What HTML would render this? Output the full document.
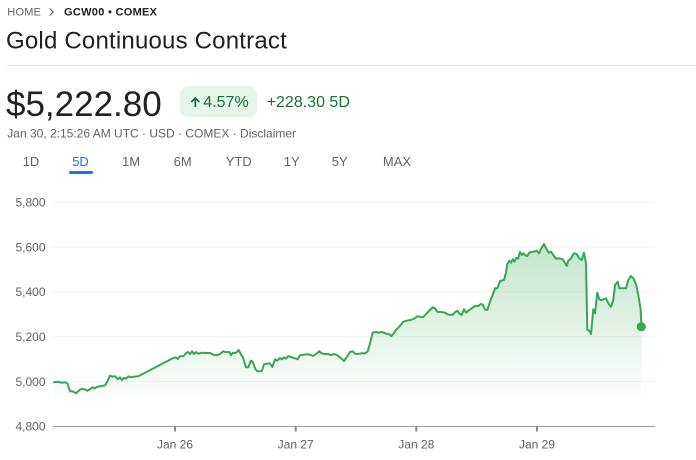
<!DOCTYPE html>
<html>
<head>
<meta charset="utf-8">
<style>
  html,body{margin:0;padding:0;background:#fff;}
  body{width:696px;height:460px;overflow:hidden;}
  svg{display:block;}
  text{font-family:"Liberation Sans", Arial, sans-serif;}
</style>
</head>
<body>
<svg width="696" height="460" viewBox="0 0 696 460" xmlns="http://www.w3.org/2000/svg">
  <defs>
    <linearGradient id="g" x1="0" y1="240" x2="0" y2="400" gradientUnits="userSpaceOnUse">
      <stop offset="0" stop-color="#34a853" stop-opacity="0.30"/>
      <stop offset="1" stop-color="#34a853" stop-opacity="0.01"/>
    </linearGradient>
  </defs>

  <!-- breadcrumb -->
  <text x="7.3" y="15.7" font-size="11" fill="#5f6368" letter-spacing="0.2">HOME</text>
  <polyline points="49.6,8.6 53.2,12.1 49.6,15.6" fill="none" stroke="#5f6368" stroke-width="1.2"/>
  <text x="64" y="15.7" font-size="11" font-weight="bold" fill="#202124" letter-spacing="0.3">GCW00 • COMEX</text>

  <!-- title -->
  <text x="6" y="48.3" font-size="24" fill="#202124" letter-spacing="0.2">Gold Continuous Contract</text>
  <line x1="7" y1="65.5" x2="696" y2="65.5" stroke="#e3e5e8" stroke-width="1"/>

  <!-- price -->
  <text x="6" y="116" font-size="35" fill="#202124">$5,222.80</text>
  <rect x="180" y="86" width="77" height="31" rx="8" fill="#e6f4ea"/>
  <path d="M195.3,98 L195.3,107 M191.3,102 L195.3,98 L199.3,102" fill="none" stroke="#137333" stroke-width="1.7"/>
  <text x="203.3" y="107" font-size="16" fill="#137333">4.57%</text>
  <text x="266.7" y="107" font-size="16" fill="#137333">+228.30 5D</text>

  <text x="7.3" y="137.3" font-size="12" fill="#5f6368">Jan 30, 2:15:26 AM UTC · USD · COMEX · Disclaimer</text>

  <!-- tabs -->
  <g font-size="13" fill="#5f6368" text-anchor="middle">
    <text x="31" y="166">1D</text>
    <text x="80.5" y="166" fill="#1a73e8">5D</text>
    <text x="131" y="166">1M</text>
    <text x="182.7" y="166">6M</text>
    <text x="238.8" y="166">YTD</text>
    <text x="291.7" y="166">1Y</text>
    <text x="339.7" y="166">5Y</text>
    <text x="397" y="166">MAX</text>
  </g>
  <rect x="69" y="171" width="24" height="3" rx="1.5" fill="#1a73e8"/>

  <!-- gridlines -->
  <g stroke="#f1f3f4" stroke-width="1">
    <line x1="53" y1="202.3" x2="655" y2="202.3"/>
    <line x1="53" y1="247.1" x2="655" y2="247.1"/>
    <line x1="53" y1="291.9" x2="655" y2="291.9"/>
    <line x1="53" y1="336.7" x2="655" y2="336.7"/>
    <line x1="53" y1="381.5" x2="655" y2="381.5"/>
  </g>

  <!-- y labels -->
  <g font-size="12" fill="#5f6368" text-anchor="end">
    <text x="45.5" y="206.6">5,800</text>
    <text x="45.5" y="251.4">5,600</text>
    <text x="45.5" y="296.2">5,400</text>
    <text x="45.5" y="341">5,200</text>
    <text x="45.5" y="385.8">5,000</text>
    <text x="45.5" y="430.6">4,800</text>
  </g>

  <!-- area + line -->
  <polygon fill="url(#g)" points="54,382.3 58.3,381.7 61,382.7 65,382.3 67.3,383.3 70,391 73.3,391.7 76,393.3 79.3,390.3 81.7,388.7 84.3,389.3 87.3,390.7 90,389.3 92.7,387.3 94.7,388.3 97.3,386.7 101.7,386 105,385.3 107.3,381.7 110,375.7 112.7,376.7 115.3,376.3 118,379.3 120,377.3 122,380 124,378 126,378.7 128.3,376.3 131,377.3 133.3,376.7 138.3,376.3 173.3,358 176,357.3 177.7,359 180,356.3 183.3,356.3 186,353.3 188,352 190,354 192,351.3 194,354 196,352 198.3,353.7 201.7,352.7 206.7,353 210,353 213.3,354.7 216.7,355.3 220,354 223.3,351.3 226.7,352.3 229.3,352 231,355.3 232.7,352.7 235,353.3 236.7,352 238.7,350 240.7,354 243.3,358.3 246,367.3 248.3,367.3 250.7,360.7 252.7,361.7 255.3,369 257.3,371.3 261.7,371.3 264,364.3 266.7,363.7 270,363.3 272.3,367 275,359.3 277.3,360.7 280,358 282,359.3 284,357.3 286,358.7 288.3,356 291.7,357.3 295,358.3 297.7,359.3 300,355.3 303.3,354.7 306.7,354.3 310,354.7 313.3,356 316,354 319.3,351.3 321.7,353.3 325,354 328.3,354 330.7,355.3 333.3,354 336.7,355 340,357.3 344,361 346.7,357.3 350,352 352.7,351.3 355,353.7 358.3,354 361.7,353.3 365,353.3 367.7,351.3 370,343.3 372.7,332.7 376,332 378.3,332.7 381.7,332 384,332.7 386.7,334 389.3,334.3 391.3,336 393.3,334 396,330 399.3,326.7 403.3,321.7 406.7,320.7 410.7,320 414,318.7 417.3,316.3 420,316.7 423.3,317 426.7,313.3 430,310 432.7,307.3 435,308.3 437.3,311.7 441.7,312 445,312.7 448.3,314.7 452.7,314.7 455.3,312 457.3,310.7 459.3,313.3 461.7,315 464,309.3 466,312.7 468.3,310.7 471.7,308.3 475,306 478.3,306 480.7,304 482.7,304.7 485,309.3 487.3,310 490,301.7 493.3,293.3 495,288.3 497.3,288.3 500,281 504,280 506,272.7 507.3,264 509.3,260.7 511,262.7 512.7,259.3 514.3,261.7 516,258 518,258.7 520,252 521.7,255 523.3,253.3 525.3,255.3 527.3,256 529.3,252.7 531.7,251.7 534.3,251.7 536.7,250.7 539,253.3 541.3,248.3 544,244 546.7,249.3 548.7,252.7 551,251.7 553.3,255 556,258.7 559.3,258.3 562.7,259.3 565,262.7 566.7,266 568.3,260.7 570.7,258.7 574,253.3 576.7,254 579,258 581.7,260 584,252.7 586,263.3 587.3,330 589.3,330.7 591,334 593.3,309.3 595,313.3 597.3,292.7 599.3,299.3 601.7,300 604,299.3 606,298.3 608.3,303.3 611,306.7 613.3,300 615,285 617.7,281.7 619.3,288.3 623.3,288.3 626,288.3 628.3,280 630.7,276 633.3,278.3 636,284 638.3,295 640.7,310 641.3,326.7 641.3,400 54,400"/>
  <polyline fill="none" stroke="#34a853" stroke-width="2" stroke-linejoin="round" stroke-linecap="round" points="54,382.3 58.3,381.7 61,382.7 65,382.3 67.3,383.3 70,391 73.3,391.7 76,393.3 79.3,390.3 81.7,388.7 84.3,389.3 87.3,390.7 90,389.3 92.7,387.3 94.7,388.3 97.3,386.7 101.7,386 105,385.3 107.3,381.7 110,375.7 112.7,376.7 115.3,376.3 118,379.3 120,377.3 122,380 124,378 126,378.7 128.3,376.3 131,377.3 133.3,376.7 138.3,376.3 173.3,358 176,357.3 177.7,359 180,356.3 183.3,356.3 186,353.3 188,352 190,354 192,351.3 194,354 196,352 198.3,353.7 201.7,352.7 206.7,353 210,353 213.3,354.7 216.7,355.3 220,354 223.3,351.3 226.7,352.3 229.3,352 231,355.3 232.7,352.7 235,353.3 236.7,352 238.7,350 240.7,354 243.3,358.3 246,367.3 248.3,367.3 250.7,360.7 252.7,361.7 255.3,369 257.3,371.3 261.7,371.3 264,364.3 266.7,363.7 270,363.3 272.3,367 275,359.3 277.3,360.7 280,358 282,359.3 284,357.3 286,358.7 288.3,356 291.7,357.3 295,358.3 297.7,359.3 300,355.3 303.3,354.7 306.7,354.3 310,354.7 313.3,356 316,354 319.3,351.3 321.7,353.3 325,354 328.3,354 330.7,355.3 333.3,354 336.7,355 340,357.3 344,361 346.7,357.3 350,352 352.7,351.3 355,353.7 358.3,354 361.7,353.3 365,353.3 367.7,351.3 370,343.3 372.7,332.7 376,332 378.3,332.7 381.7,332 384,332.7 386.7,334 389.3,334.3 391.3,336 393.3,334 396,330 399.3,326.7 403.3,321.7 406.7,320.7 410.7,320 414,318.7 417.3,316.3 420,316.7 423.3,317 426.7,313.3 430,310 432.7,307.3 435,308.3 437.3,311.7 441.7,312 445,312.7 448.3,314.7 452.7,314.7 455.3,312 457.3,310.7 459.3,313.3 461.7,315 464,309.3 466,312.7 468.3,310.7 471.7,308.3 475,306 478.3,306 480.7,304 482.7,304.7 485,309.3 487.3,310 490,301.7 493.3,293.3 495,288.3 497.3,288.3 500,281 504,280 506,272.7 507.3,264 509.3,260.7 511,262.7 512.7,259.3 514.3,261.7 516,258 518,258.7 520,252 521.7,255 523.3,253.3 525.3,255.3 527.3,256 529.3,252.7 531.7,251.7 534.3,251.7 536.7,250.7 539,253.3 541.3,248.3 544,244 546.7,249.3 548.7,252.7 551,251.7 553.3,255 556,258.7 559.3,258.3 562.7,259.3 565,262.7 566.7,266 568.3,260.7 570.7,258.7 574,253.3 576.7,254 579,258 581.7,260 584,252.7 586,263.3 587.3,330 589.3,330.7 591,334 593.3,309.3 595,313.3 597.3,292.7 599.3,299.3 601.7,300 604,299.3 606,298.3 608.3,303.3 611,306.7 613.3,300 615,285 617.7,281.7 619.3,288.3 623.3,288.3 626,288.3 628.3,280 630.7,276 633.3,278.3 636,284 638.3,295 640.7,310 641.3,326.7"/>
  <circle cx="641.3" cy="326.7" r="4.6" fill="#34a853"/>

  <!-- x axis -->
  <line x1="53" y1="426.5" x2="655" y2="426.5" stroke="#9aa0a6" stroke-width="1"/>
  <g stroke="#80868b" stroke-width="2">
    <line x1="175" y1="426.5" x2="175" y2="431.5"/>
    <line x1="295.7" y1="426.5" x2="295.7" y2="431.5"/>
    <line x1="416.3" y1="426.5" x2="416.3" y2="431.5"/>
    <line x1="537" y1="426.5" x2="537" y2="431.5"/>
  </g>
  <g font-size="12" fill="#5f6368" text-anchor="middle">
    <text x="175" y="448.5">Jan 26</text>
    <text x="295.7" y="448.5">Jan 27</text>
    <text x="416.3" y="448.5">Jan 28</text>
    <text x="537" y="448.5">Jan 29</text>
  </g>
</svg>
</body>
</html>
